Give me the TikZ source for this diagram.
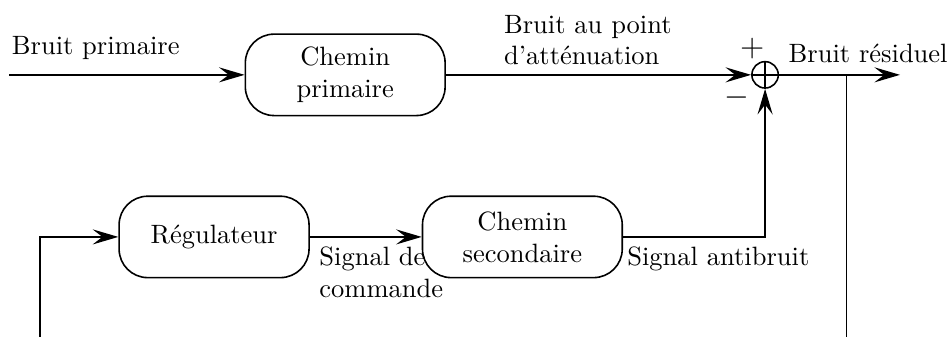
\documentclass[tikz,border=0pt]{standalone}
\usepackage{amsmath}
\usetikzlibrary{arrows.meta,positioning}

\tikzset{
  bloc/.style={draw, rounded corners=0.38cm, minimum width=2.65cm, minimum height=1.08cm, inner sep=0pt, align=center},
  somme/.style={draw, circle, minimum size=0.35cm, inner sep=0pt,
    path picture={\draw (path picture bounding box.north) -- (path picture bounding box.south)
      (path picture bounding box.west) -- (path picture bounding box.east);}},
}

\begin{document}
\begin{tikzpicture}[line width=0.6pt, >={Stealth[length=3.4mm, width=2mm, inset=1.3mm]}]
  \useasboundingbox (0,0) rectangle (12.59,4.47);

  % blocs
  \node[bloc] (primaire) at (4.58,3.477) {Chemin\\primaire};
  \node[bloc, minimum width=2.52cm] (regul) at (2.84,1.327) {Régulateur};
  \node[bloc] (secondaire) at (6.93,1.327) {Chemin\\secondaire};
  \node[somme] (sum) at (10.15,3.477) {};

  % points libres
  \coordinate (entree) at (0.12,3.477);
  \coordinate (sortie) at (11.94,3.477);
  \coordinate (prise) at (11.23,3.477);
  \coordinate (prisebas) at (11.23,0);
  \coordinate (retour) at (0.53,0);

  % chemin primaire
  \draw[->] (entree) -- (primaire);
  \draw[->] (primaire) -- (sum);
  \draw[->] (sum) -- (sortie);
  \draw (prise) -- (prisebas);

  % boucle de commande
  \draw[->] (retour) |- (regul);
  \draw[->] (regul) -- (secondaire);
  \draw[->] (secondaire) -| (sum);

  % textes
  \node[above right, yshift=2pt] (tbp) at (0.03,3.477) {Bruit primaire};
  \node[above right, align=left] (tpa) at (6.56,3.477) {Bruit au point\\d'atténuation};
  \node[above right, yshift=1pt] (tres) at (sum.east) {Bruit résiduel};
  \node (plus) at (9.98,3.83) {\large$+$};
  \node (moins) at (9.78,3.17) {\large$-$};
  \node[below right, align=left] (tcmd) at (regul.east) {Signal de\\commande};
  \node[below right, xshift=-2pt] (tanti) at (secondaire.east) {Signal antibruit};
\end{tikzpicture}
\end{document}
